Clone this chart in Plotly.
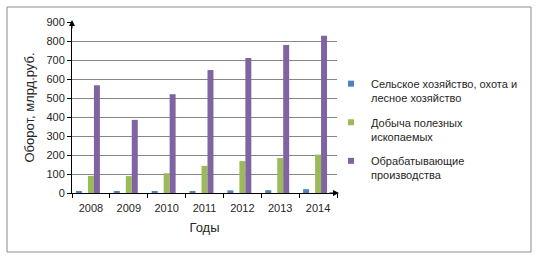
import plotly.graph_objects as go

years = ["2008", "2009", "2010", "2011", "2012", "2013", "2014"]
agri = [9, 9, 10, 10, 14, 15, 20]
mining = [90, 89, 104, 143, 168, 184, 202]
manuf = [567, 385, 520, 647, 710, 779, 828]

series_names = [
    "Сельское хозяйство, охота и<br>лесное хозяйство",
    "Добыча полезных<br>ископаемых",
    "Обрабатывающие<br>производства",
]
colors = ["#4F81BD", "#9BBB59", "#8064A2"]
offsets = [-0.395, -0.079, 0.079]
values = [agri, mining, manuf]

W, H = 537, 257
L, R, T, B = 72, 200, 22, 64
pw, ph = W - L - R, H - T - B

def px(x):
    return (x - L) / pw

def py(y):
    return (H - B - y) / ph

fig = go.Figure()
for i, (name, col, off, vals) in enumerate(zip(series_names, colors, offsets, values)):
    fig.add_trace(go.Bar(x=years, y=vals, name=name, marker_color=col,
                         marker_line_width=0, width=0.158, offset=off,
                         showlegend=False))
    fig.add_trace(go.Scatter(x=[None], y=[None], mode="markers", name=name,
                             legendgroup="g%d" % i,
                             marker=dict(symbol="square", size=6, color=col)))

font = dict(family="Liberation Sans, Arial, sans-serif", size=11, color="#262626")

fig.update_layout(
    width=W, height=H,
    margin=dict(l=L, r=R, t=T, b=B, autoexpand=False),
    paper_bgcolor="white", plot_bgcolor="white",
    font=font,
    barmode="overlay",
    xaxis=dict(type="category", showgrid=False, showline=True, linecolor="black",
               linewidth=1, ticks="outside", tickson="boundaries", ticklen=4,
               tickcolor="black", ticklabelstandoff=5,
               title=dict(text="Годы", standoff=9),
               range=[-0.5, 6.5]),
    yaxis=dict(range=[0, 900], dtick=100, showgrid=True, gridcolor="#868686",
               gridwidth=1, showline=True, linecolor="black", linewidth=1,
               ticks="outside", ticklen=4, tickcolor="black", zeroline=False,
               title=dict(text="Оборот, млрд.руб.", standoff=8)),
    legend=dict(x=px(331), y=py(70), xanchor="left", yanchor="top",
                valign="top", tracegroupgap=7, itemwidth=30,
                traceorder="grouped",
                font=font, bgcolor="rgba(0,0,0,0)"),
    shapes=[dict(type="rect", xref="paper", yref="paper",
                 x0=px(7), x1=px(531), y0=py(252), y1=py(7),
                 line=dict(color="#8c8c8c", width=1), layer="below")],
    annotations=[
        dict(xref="x domain", yref="y domain", x=0, y=py(20),
             axref="x domain", ayref="y domain",
             ax=0, ay=py(30), showarrow=True, arrowhead=2, arrowsize=1.2,
             arrowwidth=1, arrowcolor="black", text=""),
        dict(xref="x domain", yref="y domain", x=px(339), y=0,
             axref="x domain", ayref="y domain",
             ax=px(328), ay=0, showarrow=True, arrowhead=2, arrowsize=1.2,
             arrowwidth=1, arrowcolor="black", text=""),
    ],
)

fig.write_html("out.html", config={"displayModeBar": False},
               post_script="document.body.style.margin='0px';")
